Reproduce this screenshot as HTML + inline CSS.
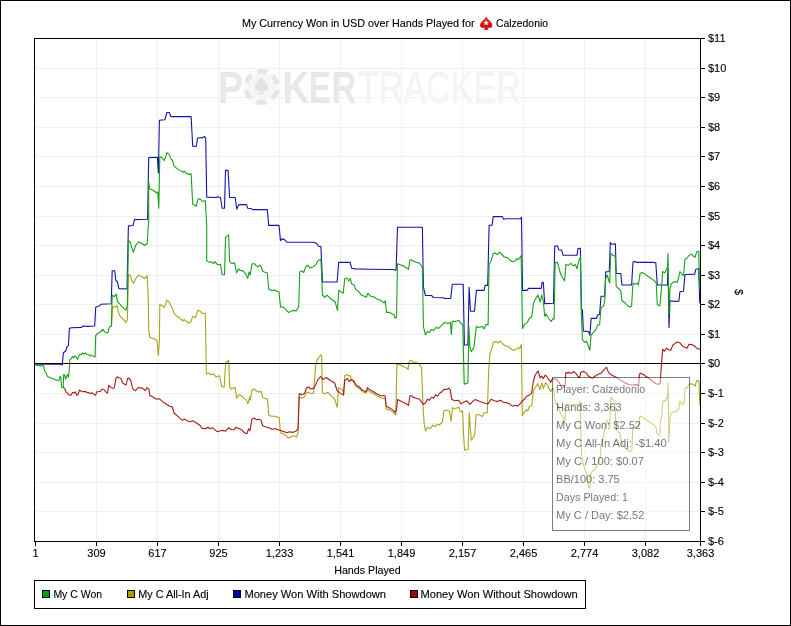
<!DOCTYPE html>
<html><head><meta charset="utf-8"><title>My Currency Won</title>
<style>html,body{margin:0;padding:0;background:#fff}svg{display:block}text{font-family:"Liberation Sans",sans-serif}</style></head><body>
<svg width="791" height="626" viewBox="0 0 791 626">
<rect x="0" y="0" width="791" height="626" fill="#fff"/>
<rect x="0.5" y="0.5" width="790" height="625" fill="none" stroke="#000" stroke-width="1" shape-rendering="crispEdges"/>
<g fill="#f0f0f0" shape-rendering="crispEdges">
<rect x="96" y="39" width="1" height="502"/>
<rect x="157" y="39" width="1" height="502"/>
<rect x="218" y="39" width="1" height="502"/>
<rect x="279" y="39" width="1" height="502"/>
<rect x="340" y="39" width="1" height="502"/>
<rect x="401" y="39" width="1" height="502"/>
<rect x="462" y="39" width="1" height="502"/>
<rect x="523" y="39" width="1" height="502"/>
<rect x="584" y="39" width="1" height="502"/>
<rect x="645" y="39" width="1" height="502"/>
<rect x="36" y="68" width="664" height="1"/>
<rect x="36" y="97" width="664" height="1"/>
<rect x="36" y="127" width="664" height="1"/>
<rect x="36" y="156" width="664" height="1"/>
<rect x="36" y="186" width="664" height="1"/>
<rect x="36" y="216" width="664" height="1"/>
<rect x="36" y="245" width="664" height="1"/>
<rect x="36" y="275" width="664" height="1"/>
<rect x="36" y="304" width="664" height="1"/>
<rect x="36" y="334" width="664" height="1"/>
<rect x="36" y="393" width="664" height="1"/>
<rect x="36" y="423" width="664" height="1"/>
<rect x="36" y="452" width="664" height="1"/>
<rect x="36" y="482" width="664" height="1"/>
<rect x="36" y="511" width="664" height="1"/>
</g>
<g id="wm">
<g font-weight="bold" font-size="45" fill="#e8e8e8">
<text x="218.0" y="103" textLength="25.2" lengthAdjust="spacingAndGlyphs">P</text>
<text x="282.6" y="103" textLength="27.0" lengthAdjust="spacingAndGlyphs">K</text>
<text x="308.7" y="103" textLength="22.1" lengthAdjust="spacingAndGlyphs">E</text>
<text x="331.40000000000003" y="103" textLength="24.8" lengthAdjust="spacingAndGlyphs">R</text>
</g>
<text x="358" y="103" font-size="45" fill="#f4f4f4" stroke="#f4f4f4" stroke-width="0.8" textLength="163" lengthAdjust="spacingAndGlyphs">TRACKER</text>
<circle cx="261.6" cy="87" r="18" fill="#e5e5e5"/>
<circle cx="261.6" cy="87" r="15.75" fill="none" stroke="#fafafa" stroke-width="4.6" stroke-dasharray="6.9 9.593" stroke-dashoffset="3.45"/>
<circle cx="261.6" cy="87" r="13.5" fill="#f5f5f5"/>
<path d="M261.6 76.4 C259.5 80.5 255 83.5 255 87.6 C255 91 258.8 92.2 260.8 90 C260.6 92.4 259.6 93.8 257 94.6 L266.2 94.6 C263.6 93.8 262.6 92.4 262.4 90 C264.4 92.2 268.2 91 268.2 87.6 C268.2 83.5 263.7 80.5 261.6 76.4Z" fill="#e3e3e3"/>
</g>
<g id="series">
<polyline points="35.0,364.3 60.5,364.3 62.2,365.0 63.4,352.7 66.0,350.7 67.0,346.6 68.4,345.6 69.4,328.4 71.5,327.8 81.6,327.4 83.0,326.0 87.6,326.4 94.7,326.0 95.7,307.2 99.8,305.8 100.8,304.2 111.2,303.8 112.2,270.8 114.7,270.8 115.9,280.9 117.3,281.3 118.9,288.6 127.0,289.0 128.4,225.9 133.1,225.5 134.5,219.6 147.6,219.2 148.7,157.6 157.4,157.2 158.4,172.8 159.4,120.2 164.8,119.8 166.9,112.5 169.3,112.5 170.9,116.6 191.1,116.6 192.7,146.1 196.2,146.5 197.6,138.0 202.9,137.6 204.5,136.4 205.7,138.4 206.7,197.1 216.4,197.5 217.8,196.7 220.5,197.5 222.1,208.2 224.5,208.2 225.5,170.4 228.1,170.4 229.6,197.5 235.2,197.5 236.8,209.2 238.7,204.6 246.5,204.6 247.7,208.2 251.1,208.6 252.5,209.6 267.3,209.6 268.7,225.4 279.0,225.4 280.5,240.6 282.1,238.9 284.5,239.6 286.9,242.2 313.8,242.2 316.9,243.6 318.5,246.2 320.9,246.6 322.5,282.0 337.1,282.0 338.7,262.4 350.2,262.4 351.7,268.3 355.3,268.9 369.4,269.3 392.7,269.5 396.1,270.2 397.5,227.3 422.4,227.3 423.4,287.0 425.4,295.5 431.5,295.5 433.5,297.5 443.6,297.7 444.6,298.5 450.7,298.5 452.3,284.3 463.2,284.3 464.4,345.0 467.9,345.0 469.1,287.4 470.5,311.2 474.5,311.2 476.4,290.4 484.1,290.4 485.1,285.4 487.7,285.4 489.1,225.3 492.1,225.3 493.2,216.6 502.3,216.6 503.7,219.2 506.3,218.8 520.5,218.8 521.5,217.2 522.5,290.4 527.1,290.4 528.6,288.4 541.3,288.4 542.1,282.3 543.3,282.3 544.7,303.6 553.5,303.2 554.7,246.2 557.5,245.8 558.8,249.8 561.6,250.2 563.2,255.3 577.0,255.3 578.0,248.6 580.4,248.2 581.4,308.9 582.4,309.9 583.4,331.1 588.5,331.5 589.9,335.2 591.1,318.4 596.6,318.4 597.6,315.0 599.6,314.5 601.0,296.3 604.7,296.3 605.7,271.9 609.3,271.5 610.3,242.5 611.7,244.2 615.4,243.8 616.2,273.5 620.8,273.5 621.9,285.0 631.6,285.0 633.0,262.0 635.0,261.4 637.0,262.4 652.2,262.4 655.8,262.8 657.3,285.0 667.4,285.0 668.0,268.4 669.0,327.5 670.0,300.8 674.4,301.4 678.9,301.2 679.9,291.7 683.5,291.3 685.0,274.5 694.7,274.1 695.7,269.4 698.7,268.4 699.7,302.8" fill="none" stroke="#1515a5" stroke-width="1.1" stroke-linejoin="round" stroke-linecap="round"/>
<polyline points="111.3,326.0 111.6,325.4 112.7,306.2 115.3,307.2 117.3,305.6 118.3,312.3 120.3,316.3 123.4,319.3 126.0,322.4 127.4,319.3 128.4,274.8 130.5,275.8 131.9,280.9 133.5,283.3 135.5,278.9 138.5,275.2 141.6,276.5 144.6,278.5 147.2,275.8 148.3,300.0 148.7,330.5 149.7,337.5 153.4,338.5 157.0,340.6 158.4,355.1 159.4,340.6 159.8,304.6 161.8,305.2 164.4,307.6 166.9,300.1 169.3,302.1 170.9,306.2 172.5,308.2 173.9,313.3 177.0,316.3 180.0,318.3 183.0,321.0 184.1,319.3 186.1,321.4 189.1,323.0 191.1,321.4 192.7,316.3 195.6,317.7 197.8,310.2 200.2,311.2 202.3,313.7 205.3,312.7 206.4,373.8 209.4,373.2 211.5,374.8 213.5,373.8 216.1,376.9 219.6,375.8 221.6,386.6 224.2,387.0 225.6,362.7 228.7,360.3 229.7,387.0 231.7,389.0 235.1,387.4 236.7,398.1 238.8,394.7 241.8,396.1 244.8,399.1 246.5,400.1 247.9,403.6 249.9,396.7 250.3,400.1 251.9,390.0 253.9,389.0 256.6,391.0 259.0,392.0 261.0,391.4 262.6,397.1 265.1,398.7 267.5,398.7 268.7,414.9 271.1,416.3 275.2,416.3 277.2,417.3 279.2,417.3 280.4,432.8 283.3,433.8 286.3,435.8 288.3,437.9 291.4,436.5 293.8,435.8 296.4,436.9 298.0,433.8 299.2,397.4 301.5,398.1 304.5,397.1 306.5,392.0 309.6,393.0 313.6,393.4 315.6,365.7 317.7,358.7 320.7,355.0 321.6,355.9 322.4,392.7 325.1,393.7 327.7,392.3 331.1,395.7 334.6,398.8 337.2,407.3 338.6,387.6 340.6,388.7 342.7,389.7 343.9,394.7 344.7,375.5 346.7,374.5 348.7,376.1 350.3,375.5 351.4,380.6 353.4,381.6 356.0,386.6 359.4,388.7 362.5,391.7 366.1,393.1 367.5,389.7 370.6,392.3 373.6,393.7 376.6,395.7 380.7,397.8 385.1,398.8 386.3,408.9 389.8,409.9 392.8,411.9 395.8,415.0 396.9,364.4 399.9,364.8 402.9,366.4 406.0,367.4 408.0,369.4 409.4,361.4 411.0,360.3 413.4,362.0 416.1,362.4 419.1,364.0 421.5,367.4 423.2,408.9 424.2,424.1 425.6,431.1 427.6,427.1 430.2,428.7 432.9,425.1 434.9,426.7 437.3,424.1 439.3,425.1 442.4,422.0 443.8,410.9 446.4,409.9 449.4,410.9 451.1,421.4 452.5,407.9 455.5,408.5 458.6,407.3 460.6,411.9 462.6,410.9 463.6,435.2 464.6,450.3 468.1,449.3 469.3,412.9 470.1,425.1 471.3,440.2 474.7,435.2 476.1,415.0 478.8,414.5 482.2,416.5 484.3,412.8 487.3,412.4 488.7,370.3 489.9,353.1 492.0,348.1 493.4,342.0 496.4,341.6 498.4,343.0 500.5,341.0 502.9,344.0 505.5,346.1 508.5,346.5 511.0,349.1 513.6,350.5 516.6,349.1 518.3,347.7 519.7,348.5 521.3,344.4 522.3,415.8 523.7,412.8 526.3,409.8 527.8,410.8 529.2,406.7 531.8,405.7 533.2,391.6 535.2,387.5 537.9,383.5 539.9,389.6 541.9,382.9 543.3,388.5 545.4,382.9 547.2,384.4 548.6,388.0 550.8,391.6 552.2,388.7 553.6,388.4 554.8,398.8 555.8,403.1 557.9,404.5 559.4,409.5 560.8,414.6 563.0,416.7 564.4,422.5 565.1,418.9 565.8,404.5 568.7,404.5 571.6,405.2 574.5,404.5 577.3,405.2 578.8,404.5 580.2,400.9 580.8,428.8 581.6,454.6 583.0,463.3 584.4,467.6 585.9,471.9 587.3,479.8 588.8,487.7 589.9,488.0 590.5,474.8 592.3,471.2 594.5,469.7 596.7,466.1 598.8,461.8 600.3,457.5 601.0,446.0 602.4,441.7 603.8,433.1 605.3,425.9 607.2,420.1 608.6,424.4 609.6,427.3 610.3,405.8 611.1,397.3 612.6,399.5 614.7,400.2 615.4,413.1 615.8,428.8 617.5,430.9 619.7,433.1 621.1,440.3 623.3,446.0 625.4,448.2 627.6,450.3 629.7,451.5 631.9,449.6 632.8,427.5 635.8,427.2 638.7,426.8 639.4,417.4 640.8,416.3 643.0,417.4 645.8,419.6 648.7,421.8 651.6,423.5 654.5,425.3 655.9,427.5 656.9,433.3 658.4,434.7 659.8,435.0 660.7,418.9 661.7,417.4 662.7,400.9 664.5,400.2 665.5,401.6 666.7,397.3 667.4,398.8 668.1,382.7 668.8,441.9 669.6,427.5 670.3,416.0 671.7,413.1 673.2,411.7 674.6,411.0 676.0,411.7 677.5,409.5 678.9,408.8 679.9,400.9 681.1,403.1 682.5,404.5 683.9,403.8 685.1,388.7 686.5,387.3 687.5,388.0 689.0,384.4 691.1,383.7 693.3,384.4 695.2,386.1 696.6,380.8 698.3,380.4 699.0,382.2 699.8,405.2" fill="none" stroke="#a5a51c" stroke-width="1.1" stroke-linejoin="round" stroke-linecap="round"/>
<polyline points="63.2,387.3 64.7,388.6 66.0,391.8 67.9,393.7 69.8,395.2 71.3,395.0 72.4,392.4 73.9,393.1 75.2,391.8 76.8,395.2 78.1,394.7 79.4,390.1 81.3,391.2 83.2,391.8 85.2,391.4 87.1,392.4 89.0,392.7 90.9,393.7 92.2,392.7 94.1,394.7 95.6,395.2 96.7,391.8 98.6,391.8 100.5,391.2 101.8,389.2 103.7,389.2 105.6,391.8 107.5,393.1 108.8,385.4 110.7,387.1 112.6,388.3 114.3,388.0 115.8,379.0 117.1,376.8 119.0,377.7 121.0,378.4 122.5,382.8 124.2,384.1 126.1,385.0 127.6,378.4 129.3,378.4 130.9,380.9 132.5,388.0 134.0,390.1 135.6,390.7 138.2,387.5 142.3,388.1 145.3,390.5 146.9,387.7 148.9,389.1 149.7,395.2 153.4,397.2 156.4,399.2 159.4,398.8 163.5,402.3 169.6,406.3 172.4,406.9 174.0,413.0 177.1,415.6 180.1,418.3 182.5,420.3 184.2,419.1 187.2,420.7 190.2,421.7 192.7,420.7 195.3,422.3 198.3,424.3 200.3,425.7 202.0,428.4 205.4,428.8 208.0,427.2 210.0,428.8 212.5,427.8 215.5,430.4 217.5,431.8 220.6,430.8 223.6,430.4 225.6,431.2 228.7,427.8 231.7,429.8 234.3,429.8 235.7,427.2 238.8,428.4 241.8,429.8 244.4,432.8 246.9,433.8 248.5,428.8 249.9,430.8 251.9,419.1 253.9,418.0 256.6,419.7 259.0,419.3 261.0,420.3 262.6,425.7 265.1,426.7 269.1,427.8 272.1,429.2 275.2,428.8 278.2,429.8 281.2,430.8 284.3,431.8 287.3,432.8 289.3,431.8 292.4,432.4 294.4,431.8 296.4,430.8 298.0,428.8 299.2,393.4 301.5,394.7 304.5,393.4 306.5,388.0 308.5,387.0 310.6,389.0 313.6,388.4 315.6,385.0 317.7,379.9 320.7,376.5 323.0,379.6 326.1,377.5 330.1,380.2 334.6,383.0 337.2,390.7 340.2,393.1 343.3,395.1 344.7,380.6 347.3,378.5 349.3,381.6 351.4,379.6 353.4,380.6 356.0,385.0 359.4,387.0 362.5,390.3 366.1,391.7 367.5,387.6 370.6,390.3 373.6,391.7 376.6,393.7 380.7,395.7 385.1,395.7 386.3,406.5 389.8,407.9 392.8,409.9 395.1,412.4 396.5,410.3 397.5,399.6 400.1,400.8 403.1,402.3 406.2,403.7 408.6,405.3 409.8,396.2 411.2,395.6 413.3,397.2 416.3,398.2 419.3,399.2 421.4,401.6 423.4,404.3 425.4,403.3 427.4,399.2 429.4,400.2 431.5,397.2 433.5,398.2 435.5,394.8 437.5,396.2 439.6,393.2 441.6,392.1 444.2,389.1 446.6,389.5 448.7,388.1 450.3,390.1 451.7,399.2 454.7,400.8 458.8,400.2 460.8,403.7 463.8,402.3 466.9,400.8 469.9,404.3 472.9,401.2 475.0,399.6 478.0,400.8 482.0,402.3 485.1,403.3 488.1,403.7 491.1,399.2 494.2,400.8 497.2,401.6 500.2,400.2 503.3,402.3 507.3,402.9 509.3,403.7 512.4,406.3 515.4,405.3 517.4,406.3 520.5,403.3 522.5,400.8 524.5,399.2 526.5,396.2 529.2,395.2 531.6,393.2 533.2,382.0 535.2,375.0 538.1,370.9 540.1,378.0 541.7,376.0 543.3,378.6 545.3,375.0 547.2,377.2 549.3,380.1 550.8,382.2 552.2,379.3 553.6,378.6 555.8,379.3 557.9,380.8 559.4,382.9 560.8,385.8 563.0,385.1 564.4,387.3 565.1,385.8 565.8,372.9 568.7,372.6 571.6,373.2 573.8,371.4 575.9,373.6 578.1,376.5 579.5,377.9 580.9,372.2 583.8,371.4 586.0,372.9 588.1,375.8 590.3,377.2 592.4,378.6 594.6,376.5 596.8,375.0 598.9,374.0 601.1,373.2 603.2,370.7 605.4,368.3 606.7,367.4 608.3,372.2 610.4,374.3 612.6,375.5 615.4,376.9 618.3,378.6 621.2,380.4 624.1,382.2 626.9,383.7 629.8,384.7 633.6,385.1 636.5,384.4 638.7,385.5 639.4,374.3 640.8,373.2 643.0,374.3 645.1,375.8 647.3,377.2 650.2,379.3 653.0,381.5 655.9,383.7 658.8,384.1 660.2,383.7 661.3,366.4 662.7,349.2 664.3,351.2 666.4,348.2 668.8,349.8 670.8,350.2 672.8,345.2 675.5,343.1 677.5,342.1 680.1,343.1 682.5,346.2 685.0,347.2 687.0,348.2 689.0,344.2 691.6,344.6 694.3,345.8 696.7,348.2 699.7,349.2" fill="none" stroke="#a81818" stroke-width="1.1" stroke-linejoin="round" stroke-linecap="round"/>
<polyline points="35.3,364.3 36.6,365.6 38.5,365.0 40.4,366.2 42.3,364.9 43.6,366.2 44.5,370.7 46.1,373.2 47.4,376.4 49.3,377.3 51.3,378.1 53.2,379.0 55.1,379.4 57.0,380.3 58.9,380.7 60.0,376.4 60.9,377.7 61.5,387.3 63.2,387.3 63.7,374.5 64.7,375.2 65.7,379.0 66.6,376.4 67.5,374.5 68.5,377.3 69.2,370.7 69.8,359.8 71.1,358.9 72.4,356.6 73.6,357.9 74.9,356.0 76.2,357.3 77.5,359.2 78.8,356.0 80.0,354.1 81.3,354.7 82.6,352.8 83.9,354.1 85.2,352.8 86.4,354.1 88.3,354.3 90.3,356.0 91.5,355.1 93.5,356.4 95.1,356.9 95.7,335.5 97.8,333.5 100.8,331.5 102.8,329.4 105.2,332.5 107.9,332.9 109.3,327.4 111.3,326.0 112.2,295.1 114.3,296.7 116.3,294.1 117.3,301.1 119.9,304.2 122.4,307.2 126.0,310.2 127.4,305.2 128.4,240.5 130.5,242.5 131.5,247.5 133.5,252.2 135.5,245.5 138.5,242.1 141.6,243.5 144.6,245.5 147.2,243.5 148.7,220.2 148.7,181.9 149.7,189.0 152.7,190.0 156.7,193.0 157.8,192.0 158.8,208.2 159.8,156.6 161.8,157.6 164.4,160.3 166.9,152.6 169.3,154.6 170.9,159.1 172.5,160.3 173.9,165.7 176.6,168.4 180.0,170.4 183.0,172.4 184.1,171.2 186.1,173.2 189.1,174.4 191.1,173.8 192.7,204.2 196.2,206.2 198.2,198.7 200.2,199.1 202.3,201.5 205.3,200.5 206.7,225.4 206.7,260.7 209.3,262.3 211.4,261.7 213.4,263.7 215.0,261.7 217.4,264.7 220.5,264.3 222.1,274.8 224.5,274.8 225.5,237.4 228.6,234.8 229.6,261.7 231.6,263.7 234.6,262.7 236.6,272.8 238.7,268.8 240.0,270.3 243.0,270.9 245.7,273.9 247.7,278.4 249.1,271.9 250.1,275.0 252.1,263.8 254.6,263.8 256.2,265.8 257.8,266.9 259.8,265.2 261.2,266.9 262.7,271.3 265.3,272.5 267.3,272.9 268.7,289.1 271.4,290.5 274.4,290.1 276.4,291.1 279.0,292.1 280.5,306.9 283.5,307.3 285.5,309.3 288.5,312.4 291.6,311.0 294.2,310.4 296.2,311.0 298.7,306.9 299.7,271.9 301.7,270.9 303.7,272.5 305.7,266.9 307.8,265.2 309.8,267.9 312.8,266.9 315.9,264.8 317.9,260.8 320.9,259.2 322.5,295.2 325.0,297.2 327.0,295.2 330.0,298.2 333.0,300.2 335.1,301.7 337.5,310.4 338.7,290.1 341.1,292.1 343.2,293.2 344.8,278.6 346.8,278.0 348.8,281.0 350.2,278.4 351.7,284.1 354.3,285.1 355.7,289.5 358.3,291.1 361.4,295.2 364.4,296.2 366.4,297.2 367.8,293.2 370.5,296.2 373.5,296.8 377.5,299.2 381.6,300.8 384.0,302.9 385.2,300.8 386.6,312.4 389.7,312.4 391.7,313.8 394.1,314.8 395.1,318.3 396.5,317.3 397.5,263.7 400.1,264.7 403.1,265.7 406.2,267.8 408.6,269.2 409.8,260.3 411.2,259.7 413.3,261.1 416.3,262.3 419.3,263.1 421.4,265.7 422.4,267.8 423.4,326.4 425.4,334.9 427.4,331.5 429.4,332.5 431.5,329.4 433.5,330.5 436.1,327.4 438.5,328.4 441.6,325.4 444.6,322.4 447.6,323.4 450.3,322.4 451.3,334.5 452.3,321.4 455.7,321.4 458.8,320.3 460.8,323.4 462.8,324.4 464.2,384.1 467.9,383.0 468.9,326.4 469.9,346.6 471.3,351.7 473.9,347.6 476.4,326.4 479.0,327.4 482.0,326.4 484.1,328.8 486.1,324.4 488.1,324.8 489.1,264.7 491.1,260.7 493.2,253.6 495.2,253.0 497.2,254.6 499.6,252.2 502.3,255.0 504.3,257.0 507.3,257.6 509.3,259.7 512.4,261.7 515.4,260.7 517.0,258.7 518.4,259.7 521.1,255.6 522.5,328.4 524.5,324.4 525.9,323.4 527.5,322.4 529.2,318.3 531.6,317.3 533.6,303.1 535.2,299.1 538.1,295.1 540.1,302.1 541.7,295.1 543.3,301.1 544.7,316.3 546.1,313.9 547.8,317.3 549.0,319.0 551.1,321.4 553.1,318.6 554.1,319.0 555.1,262.8 557.5,262.4 558.8,267.4 560.2,272.5 562.2,277.5 564.6,281.0 565.8,264.4 568.3,265.4 570.9,263.4 573.3,266.0 575.3,264.4 577.0,268.8 578.4,262.4 580.4,256.3 581.4,315.0 582.4,339.2 584.4,342.3 586.5,341.2 588.5,346.3 589.9,350.3 591.1,335.2 593.5,332.1 595.6,330.1 597.6,325.1 599.6,324.7 601.0,307.9 603.7,305.8 604.7,300.8 605.7,278.5 607.3,274.9 608.7,280.6 609.7,283.0 610.7,253.3 612.8,255.3 615.2,256.3 616.2,286.6 618.8,288.7 620.8,290.7 621.9,300.8 624.9,302.8 627.9,305.8 630.0,306.9 631.6,306.5 633.0,283.0 635.0,284.2 637.0,283.0 638.4,285.0 640.1,273.5 642.1,272.5 645.1,274.1 648.2,276.5 651.2,278.5 654.2,280.6 656.2,283.0 657.3,304.8 659.9,305.8 661.3,290.7 662.7,271.5 664.7,272.9 666.4,269.4 667.4,268.4 668.0,253.3 669.0,313.9 670.0,288.7 671.4,283.6 673.4,282.2 675.5,281.6 676.9,282.6 678.5,278.5 679.9,271.5 682.1,274.5 683.5,275.5 685.0,259.3 687.0,258.3 689.0,255.3 691.6,254.3 693.7,256.3 695.1,257.3 696.7,251.8 698.7,251.2 699.7,288.7" fill="none" stroke="#18a018" stroke-width="1.1" stroke-linejoin="round" stroke-linecap="round"/>
</g>
<g fill="#000" shape-rendering="crispEdges">
<rect x="35" y="363" width="665" height="1"/>
<rect x="34" y="38" width="667" height="1"/>
<rect x="34" y="38" width="1" height="504"/>
<rect x="700" y="38" width="1" height="504"/>
<rect x="34" y="541" width="667" height="1"/>
<rect x="701" y="38" width="4" height="1"/>
<rect x="701" y="68" width="4" height="1"/>
<rect x="701" y="97" width="4" height="1"/>
<rect x="701" y="127" width="4" height="1"/>
<rect x="701" y="156" width="4" height="1"/>
<rect x="701" y="186" width="4" height="1"/>
<rect x="701" y="216" width="4" height="1"/>
<rect x="701" y="245" width="4" height="1"/>
<rect x="701" y="275" width="4" height="1"/>
<rect x="701" y="304" width="4" height="1"/>
<rect x="701" y="334" width="4" height="1"/>
<rect x="701" y="363" width="4" height="1"/>
<rect x="701" y="393" width="4" height="1"/>
<rect x="701" y="423" width="4" height="1"/>
<rect x="701" y="452" width="4" height="1"/>
<rect x="701" y="482" width="4" height="1"/>
<rect x="701" y="511" width="4" height="1"/>
<rect x="701" y="541" width="4" height="1"/>
<rect x="35" y="542" width="1" height="4"/>
<rect x="96" y="542" width="1" height="4"/>
<rect x="157" y="542" width="1" height="4"/>
<rect x="218" y="542" width="1" height="4"/>
<rect x="279" y="542" width="1" height="4"/>
<rect x="340" y="542" width="1" height="4"/>
<rect x="401" y="542" width="1" height="4"/>
<rect x="462" y="542" width="1" height="4"/>
<rect x="523" y="542" width="1" height="4"/>
<rect x="584" y="542" width="1" height="4"/>
<rect x="645" y="542" width="1" height="4"/>
<rect x="700" y="542" width="1" height="4"/>
</g>
<g font-size="11" fill="#000" stroke="#000" stroke-width="0.12">
<text x="708" y="42">$11</text>
<text x="708" y="72">$10</text>
<text x="708" y="101">$9</text>
<text x="708" y="131">$8</text>
<text x="708" y="160">$7</text>
<text x="708" y="190">$6</text>
<text x="708" y="220">$5</text>
<text x="708" y="249">$4</text>
<text x="708" y="279">$3</text>
<text x="708" y="308">$2</text>
<text x="708" y="338">$1</text>
<text x="708" y="367">$0</text>
<text x="708" y="397">$-1</text>
<text x="708" y="427">$-2</text>
<text x="708" y="456">$-3</text>
<text x="708" y="486">$-4</text>
<text x="708" y="515">$-5</text>
<text x="708" y="545">$-6</text>
<text x="35.5" y="557" text-anchor="middle">1</text>
<text x="96.5" y="557" text-anchor="middle">309</text>
<text x="157.5" y="557" text-anchor="middle">617</text>
<text x="218.5" y="557" text-anchor="middle">925</text>
<text x="279.5" y="557" text-anchor="middle">1,233</text>
<text x="340.5" y="557" text-anchor="middle">1,541</text>
<text x="401.5" y="557" text-anchor="middle">1,849</text>
<text x="462.5" y="557" text-anchor="middle">2,157</text>
<text x="523.5" y="557" text-anchor="middle">2,465</text>
<text x="584.5" y="557" text-anchor="middle">2,774</text>
<text x="645.5" y="557" text-anchor="middle">3,082</text>
<text x="700.5" y="557" text-anchor="middle">3,363</text>
<text transform="translate(735,292) rotate(90)" text-anchor="middle">$</text>
<text id="hands" x="334.20" y="574" textLength="66.56" lengthAdjust="spacingAndGlyphs">Hands Played</text>
<text id="title" x="242.00" y="27" textLength="232.60" lengthAdjust="spacingAndGlyphs">My Currency Won in USD over Hands Played for</text>
<text id="calz" x="496.00" y="27" textLength="52.04" lengthAdjust="spacingAndGlyphs">Calzedonio</text>
</g>
<defs><linearGradient id="sp" x1="0" y1="0" x2="0.3" y2="1"><stop offset="0" stop-color="#f24a4a"/><stop offset="0.5" stop-color="#e01818"/><stop offset="1" stop-color="#c00808"/></linearGradient></defs>
<g id="icon">
<path d="M486.2 16.4 C484.2 20 480 22 480 25.2 C480 27.8 483 28.6 484.9 27.2 C484.7 28.6 484.1 29.2 483 29.8 L489.4 29.8 C488.3 29.2 487.7 28.6 487.5 27.2 C489.4 28.6 492.4 27.8 492.4 25.2 C492.4 22 488.2 20 486.2 16.4Z" fill="url(#sp)"/>
<path d="M486.2 20 l0.8 1.9 2 0.1 -1.6 1.3 0.6 2 -1.8 -1.1 -1.8 1.1 0.6 -2 -1.6 -1.3 2 -0.1z" fill="#fff"/>
</g>
<rect x="34.5" y="580.5" width="551" height="28" fill="#fff" stroke="#000" stroke-width="1" shape-rendering="crispEdges"/>
<g font-size="11" fill="#000" stroke="#000" stroke-width="0.12">
<rect x="42.5" y="590.5" width="7" height="7" fill="#00a000" stroke="#000" stroke-width="1" shape-rendering="crispEdges"/>
<text id="leg0" x="53.40" y="598" textLength="48.70" lengthAdjust="spacingAndGlyphs">My C Won</text>
<rect x="127.5" y="590.5" width="7" height="7" fill="#a0a000" stroke="#000" stroke-width="1" shape-rendering="crispEdges"/>
<text id="leg1" x="138.20" y="598" textLength="70.52" lengthAdjust="spacingAndGlyphs">My C All-In Adj</text>
<rect x="233.5" y="590.5" width="7" height="7" fill="#0000a0" stroke="#000" stroke-width="1" shape-rendering="crispEdges"/>
<text id="leg2" x="244.40" y="598" textLength="141.64" lengthAdjust="spacingAndGlyphs">Money Won With Showdown</text>
<rect x="410.5" y="590.5" width="7" height="7" fill="#a00000" stroke="#000" stroke-width="1" shape-rendering="crispEdges"/>
<text id="leg3" x="420.50" y="598" textLength="157.24" lengthAdjust="spacingAndGlyphs">Money Won Without Showdown</text>
</g>
<g id="tooltip">
<rect x="553" y="378" width="136" height="152" fill="#fff" fill-opacity="0.47"/>
<rect x="552.5" y="377.5" width="137" height="153" fill="none" stroke="#000" stroke-opacity="0.5" stroke-width="1" shape-rendering="crispEdges"/>
<g font-size="11" fill="#000" fill-opacity="0.56">
<text id="tip0" x="556.10" y="393" textLength="89.10" lengthAdjust="spacingAndGlyphs">Player: Calzedonio</text>
<text id="tip1" x="556.10" y="411" textLength="65.54" lengthAdjust="spacingAndGlyphs">Hands: 3,363</text>
<text id="tip2" x="556.10" y="429" textLength="84.79" lengthAdjust="spacingAndGlyphs">My C Won: $2.52</text>
<text id="tip3" x="556.10" y="447" textLength="110.55" lengthAdjust="spacingAndGlyphs">My C All-In Adj: -$1.40</text>
<text id="tip4" x="556.10" y="465" textLength="87.75" lengthAdjust="spacingAndGlyphs">My C / 100: $0.07</text>
<text id="tip5" x="556.10" y="483" textLength="63.63" lengthAdjust="spacingAndGlyphs">BB/100: 3.75</text>
<text id="tip6" x="556.10" y="501" textLength="71.94" lengthAdjust="spacingAndGlyphs">Days Played: 1</text>
<text id="tip7" x="556.10" y="519" textLength="88.25" lengthAdjust="spacingAndGlyphs">My C / Day: $2.52</text>
</g></g>
</svg></body></html>
